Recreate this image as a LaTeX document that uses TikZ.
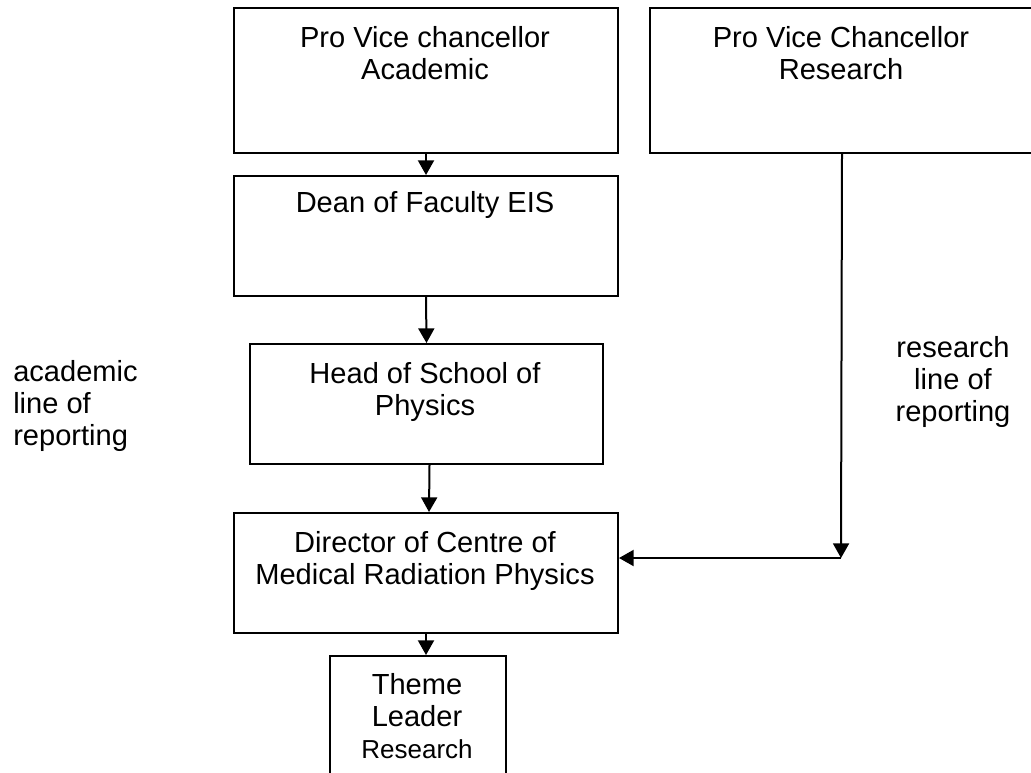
\documentclass[tikz,border=0pt]{standalone}
\usepackage{fontspec}
\setmainfont{Liberation Sans}
\usetikzlibrary{arrows.meta}
\begin{document}
\begin{tikzpicture}[x=0.75pt,y=-0.75pt,
  box/.style={draw,line width=1.5pt,inner sep=0pt,anchor=north west},
  txt/.style={inner sep=0pt,align=center,anchor=base,font=\fontsize{21.8}{24}\selectfont},
  side/.style={inner sep=0pt,anchor=base,font=\fontsize{21.8}{24}\selectfont},
  arr/.style={line width=1.5pt,-{Triangle[length=11pt,width=12pt]}}]
\clip (0,0) rectangle (1031,772);
\fill[white] (0,0) rectangle (1031,772);
% boxes
\node[box,minimum width=288pt,minimum height=108.75pt] (b1) at (233,7) {};
\node[box,minimum width=288pt,minimum height=108.75pt] (b2) at (649,7) {};
\node[box,minimum width=288pt,minimum height=90pt] (b3) at (233,175) {};
\node[box,minimum width=264.75pt,minimum height=90pt] (b4) at (249,343) {};
\node[box,minimum width=288pt,minimum height=90pt] (b5) at (233,512) {};
\node[box,minimum width=132pt,minimum height=105pt] (b6) at (329,655) {};
% texts (anchor base = baseline of last line)
\node[txt] (t1) at (425,79) {Pro Vice chancellor\\Academic};
\node[txt] (t2) at (841,79) {Pro Vice Chancellor\\Research};
\node[txt] (t3) at (425,212) {Dean of Faculty EIS};
\node[txt] (t4) at (425,415) {Head of School of\\Physics};
\node[txt] (t5) at (425,584) {Director of Centre of\\Medical Radiation Physics};
\node[txt] (t6) at (417,758) {Theme\\Leader\\{\fontsize{19.5}{24}\selectfont Research}};
\node[side,align=left,anchor=base west] (la) at (13,445) {academic\\line of\\reporting};
\node[side,align=center] (lr) at (953,421) {research\\line of\\reporting};
% connectors
\coordinate (c1) at (841,558);
\draw[arr] (b1.south) -- (b3.north);
\draw[arr] (b3.south) -- (b4.north);
\draw[arr] ([xshift=2.25pt]b4.south) -- ([xshift=2.25pt]b5.north);
\draw[arr] (b5.south) -- (b5.south |- b6.north);
\draw[arr] (b2.south) -- (c1);
\draw[arr] (c1) -- (b5.east |- c1);
\end{tikzpicture}
\end{document}
